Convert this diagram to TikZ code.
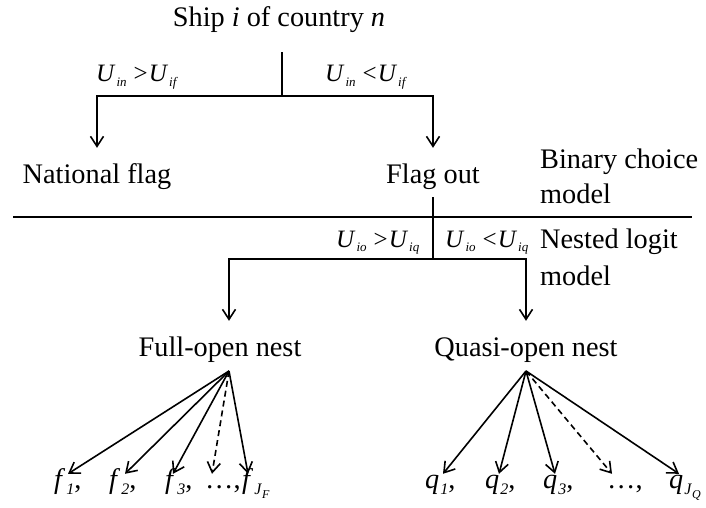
\documentclass[tikz,border=0pt]{standalone}
\usepackage{fontspec}
\setmainfont{Liberation Serif}
\usetikzlibrary{arrows.meta}
\newcommand{\Us}[1]{\textit{U}\kern1pt\raisebox{-4.5pt}{\fontsize{13}{13}\selectfont\textit{#1}}}
\newcommand{\Ls}[2]{\textit{#1}\kern1pt\raisebox{-6pt}{\fontsize{16}{16}\selectfont\textit{#2}}}
\newcommand{\LJ}[2]{\textit{#1}\kern1pt\raisebox{-6pt}{\fontsize{16}{16}\selectfont\textit{J}\raisebox{-4pt}{\fontsize{12}{12}\selectfont\textit{#2}}}}
\begin{document}
\begin{tikzpicture}[x=1pt,y=-1pt,
  lbl/.style={font=\fontsize{28.3}{34}\selectfont, inner sep=0pt, text height=20pt, text depth=6pt, anchor=base},
  side/.style={font=\fontsize{28.3}{34}\selectfont, inner sep=0pt, anchor=base west},
  cond/.style={font=\fontsize{25}{28}\selectfont, inner sep=0pt, anchor=base west},
  leaf/.style={font=\fontsize{28.3}{34}\selectfont, inner sep=0pt, text height=14pt, anchor=base west},
  ln/.style={line width=1.6pt},
  arr/.style={ln, -{Straight Barb[length=10pt,width=13pt]}},
  darr/.style={arr, dash pattern=on 6pt off 4pt},
]
\useasboundingbox (0,0) rectangle (706,508);

% main labels
\node[lbl] (ship) at (279,27) {Ship \textit{i} of country \textit{n}};
\node[lbl] (nf) at (97,183) {National flag};
\node[lbl] (fo) at (433,183) {Flag out};
\node[lbl] (fon) at (220,356) {Full-open nest};
\node[lbl] (qon) at (526,356) {Quasi-open nest};

% side labels
\node[side] (bc1) at (540,168) {Binary choice};
\node[side] (bc2) at (540,203) {model};
\node[side] (nl1) at (540,248) {Nested logit};
\node[side] (nl2) at (540,285) {model};

% conditions
\node[cond] (c1) at (96,82) {\Us{in}\kern7pt>\kern1pt\Us{if}};
\node[cond] (c2) at (325,82) {\Us{in}\kern7pt<\kern1pt\Us{if}};
\node[cond] (c3) at (336,247) {\Us{io}\kern7pt>\kern1pt\Us{iq}};
\node[cond] (c4) at (445,247) {\Us{io}\kern7pt<\kern1pt\Us{iq}};

% separator
\coordinate (rl) at (13,217);
\coordinate (rr) at (692,217);
\draw[ln] (rl) -- (rr);

% first level
\coordinate (j1) at (282,96);
\draw[ln, shorten <=19pt] (ship.south -| j1) -- (j1);
\draw[arr, shorten >=15pt] (j1) -| (nf.north);
\draw[arr, shorten >=15pt] (j1) -| (fo.north);

% second level
\coordinate (j2) at (433,259);
\draw[ln, shorten <=8pt] (fo.south) -- (j2);
\draw[arr, shorten >=15pt] (j2) -| ([xshift=9pt]fon.north);
\draw[arr, shorten >=15pt] (j2) -| (qon.north);

% leaves
\node[leaf] (f1) at (54,488) {\Ls{f}{1},};
\node[leaf] (f2) at (109,488) {\Ls{f}{2},};
\node[leaf] (f3) at (165,488) {\Ls{f}{3},};
\node[leaf] (fd) at (205,488) {\ldots,};
\node[leaf] (fJ) at (242,488) {\LJ{f}{F}};
\node[leaf] (q1) at (425,488) {\Ls{q}{1},};
\node[leaf] (q2) at (485,488) {\Ls{q}{2},};
\node[leaf] (q3) at (543,488) {\Ls{q}{3},};
\node[leaf] (qd) at (607,488) {\ldots,};
\node[leaf] (qJ) at (669,488) {\LJ{q}{Q}};

\coordinate (fap) at (229,371);
\coordinate (qap) at (526,371);
\draw[arr]  (fap) -- ([xshift=14pt]f1.north west);
\draw[arr]  (fap) -- ([xshift=16pt]f2.north west);
\draw[arr]  (fap) -- ([xshift=8pt]f3.north west);
\draw[darr] (fap) -- ([xshift=7pt]fd.north west);
\draw[arr]  (fap) -- ([xshift=6pt]fJ.north west);
\draw[arr]  (qap) -- ([xshift=18pt]q1.north west);
\draw[arr]  (qap) -- ([xshift=14pt]q2.north west);
\draw[arr]  (qap) -- ([xshift=12pt]q3.north west);
\draw[darr] (qap) -- ([xshift=5pt]qd.north west);
\draw[arr]  (qap) -- ([xshift=10pt]qJ.north west);
\end{tikzpicture}
\end{document}
